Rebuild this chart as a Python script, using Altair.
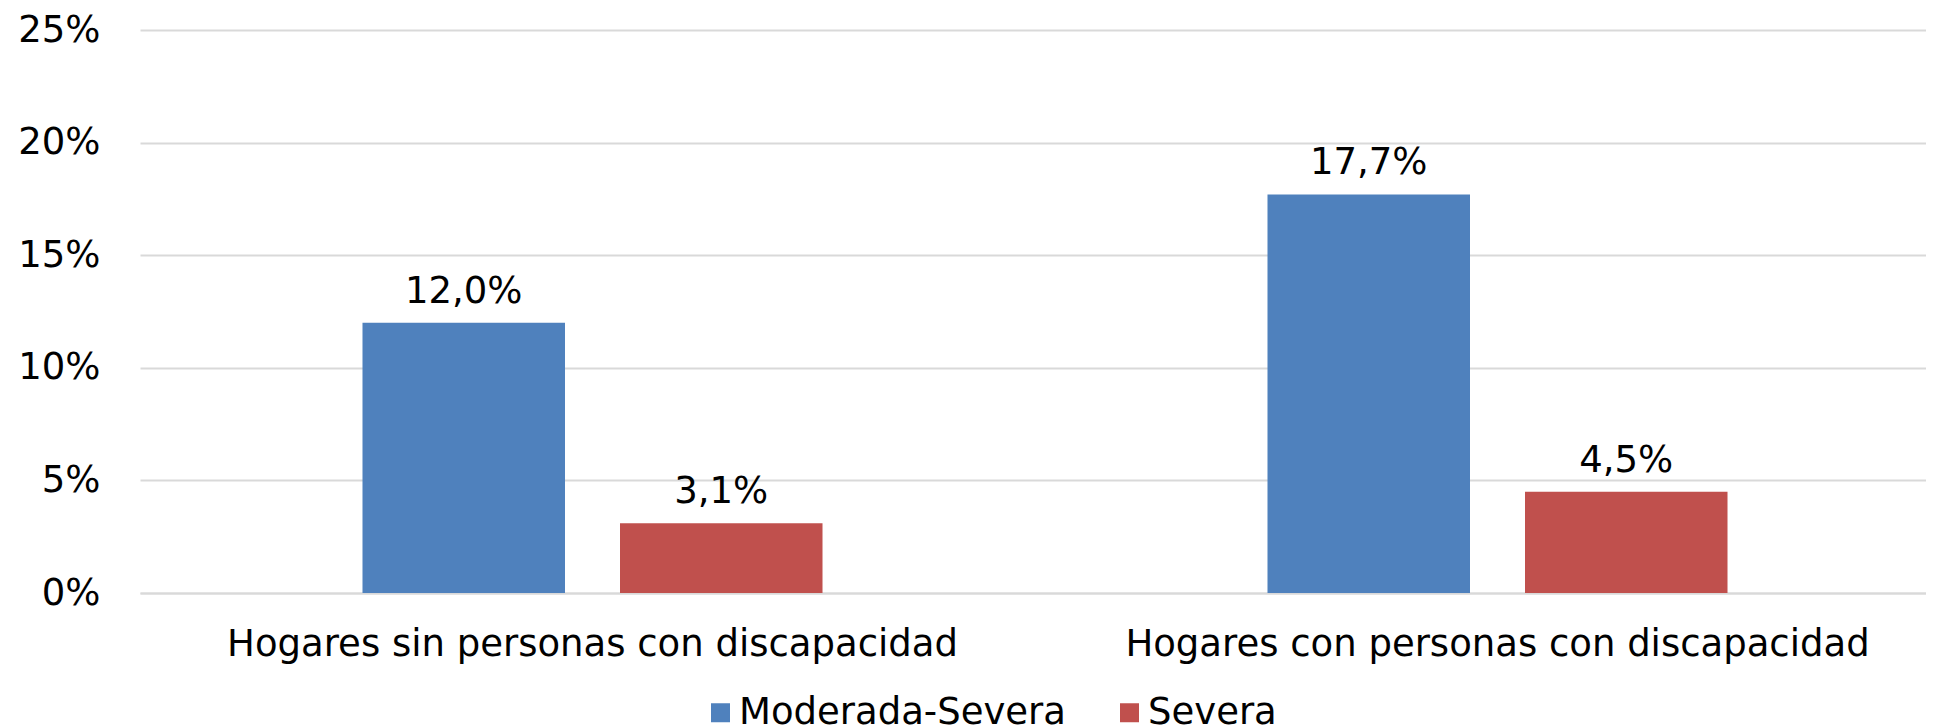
import altair as alt
import pandas as pd

categories = ["Hogares sin personas con discapacidad", "Hogares con personas con discapacidad"]
series = ["Moderada-Severa", "Severa"]
moderada = [12.0, 17.7]
severa = [3.1, 4.5]
colors = ["#4F81BD", "#C0504D"]
y_ticks = [0, 5, 10, 15, 20, 25]

rows = []
for i, c in enumerate(categories):
    for s, vals in zip(series, [moderada, severa]):
        v = vals[i]
        rows.append({"cat": c, "serie": s, "value": v,
                     "label": f"{v:.1f}".replace(".", ",") + "%"})
df = pd.DataFrame(rows)

FONT = "DejaVu Sans"
FS = 37

base = alt.Chart(df).encode(
    x=alt.X("cat:N", sort=categories,
            scale=alt.Scale(range=[0, 1810], paddingInner=0, paddingOuter=0),
            axis=alt.Axis(title=None, labelAngle=0, ticks=False, grid=False,
                          domainColor="#d9d9d9",
                          domainWidth=2, labelPadding=33, labelFontSize=FS,
                          labelColor="black", labelLimit=0, labelFont=FONT)),
    xOffset=alt.XOffset("serie:N", sort=series,
                        scale=alt.Scale(paddingInner=0.2136, paddingOuter=0.864)),
    y=alt.Y("value:Q", scale=alt.Scale(domain=[0, 25]),
            axis=alt.Axis(values=y_ticks, labelExpr="datum.value + '%'", title=None,
                          domain=False, ticks=False, gridColor="#d9d9d9", gridWidth=2,
                          labelPadding=40, labelFontSize=FS, labelColor="black",
                          labelFont=FONT)),
)

bars = base.mark_bar().encode(
    color=alt.Color("serie:N", sort=series,
                    scale=alt.Scale(domain=series, range=colors),
                    legend=alt.Legend(title=None, orient="none", legendX=562, legendY=664,
                                      direction="horizontal", symbolType="square",
                                      symbolSize=361, symbolStrokeWidth=0,
                                      labelFontSize=FS, labelFont=FONT, labelColor="black",
                                      labelOffset=0, columnPadding=44, labelLimit=0))
)

text = base.mark_text(dy=-20, baseline="alphabetic", fontSize=FS, font=FONT,
                      color="black").encode(text="label:N")

chart = (bars + text).properties(
    width=1786, height=563,
    padding={"left": 132, "top": 22, "right": 0, "bottom": 133},
    autosize="none",
).configure(font=FONT).configure_view(stroke=None, strokeWidth=0).configure_axisY(domain=False)

chart.save("out.html", embed_options={"renderer": "svg", "actions": False})
